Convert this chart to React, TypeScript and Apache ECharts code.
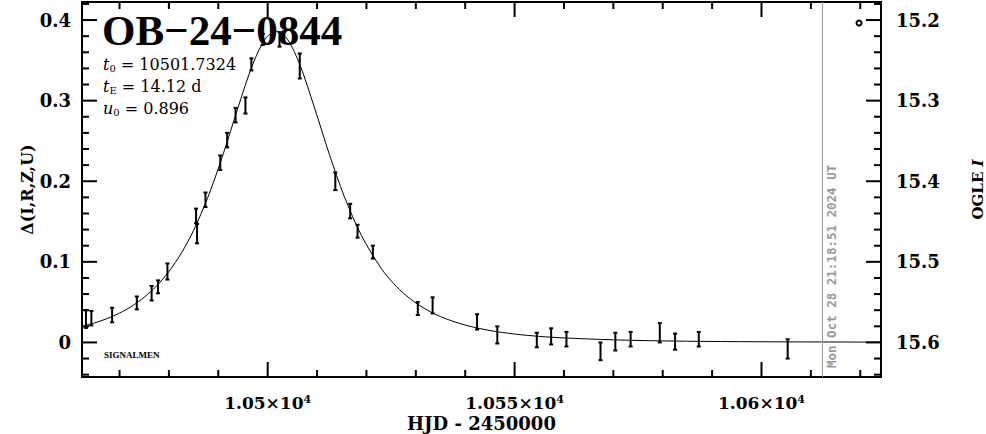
import React, { useEffect, useRef } from "react";
import * as echarts from "echarts";

// Observed photometry (HJD - 2450000, Δmag, error)
const hjd = [
  10463.2, 10464.3, 10468.5, 10473.5, 10476.5, 10477.8, 10479.7, 10485.5, 10485.7, 10487.4,
  10490.4, 10491.8, 10493.5, 10495.5, 10496.7, 10499.0, 10502.4, 10506.5, 10513.7, 10516.7,
  10518.2, 10521.3, 10530.4, 10533.4, 10542.4, 10546.5, 10554.5, 10557.4, 10560.5, 10567.4,
  10570.4, 10573.5, 10579.4, 10582.5, 10587.3, 10605.3,
];
const delta = [
  0.029, 0.03, 0.034, 0.049, 0.061, 0.069, 0.088, 0.157, 0.135, 0.177,
  0.223, 0.251, 0.282, 0.294, 0.345, 0.376, 0.376, 0.343, 0.2, 0.163,
  0.138, 0.112, 0.042, 0.046, 0.0255, 0.0093, 0.003, 0.0075, 0.004, -0.011,
  0.001, 0.004, 0.012, 0.001, 0.004, -0.008,
];
const deltaErr = [
  0.011, 0.009, 0.009, 0.008, 0.009, 0.008, 0.01, 0.009, 0.012, 0.009,
  0.009, 0.009, 0.009, 0.01, 0.0075, 0.007, 0.009, 0.0155, 0.011, 0.009,
  0.008, 0.008, 0.008, 0.01, 0.0095, 0.0106, 0.009, 0.01, 0.009, 0.011,
  0.011, 0.009, 0.012, 0.01, 0.009, 0.012,
];

// Model light curve samples
const modelHjd = [
  10462.4, 10465, 10467.5, 10470, 10472.5, 10475, 10477.5, 10480, 10482.5, 10485,
  10488, 10491, 10494, 10497, 10499.5, 10501.73, 10504, 10506.5, 10509.5, 10512.5,
  10515.5, 10519, 10523, 10525.5, 10528, 10531, 10535, 10540, 10545, 10550,
  10555, 10560, 10570, 10580, 10590, 10605, 10624.2,
];
const modelDelta = [
  0.0198, 0.0243, 0.0296, 0.0364, 0.045, 0.056, 0.0701, 0.088, 0.1106, 0.1391,
  0.1818, 0.2339, 0.2915, 0.3454, 0.3765, 0.3864, 0.3762, 0.3449, 0.2909, 0.2332,
  0.1813, 0.1325, 0.0918, 0.0731, 0.0584, 0.0449, 0.032, 0.0215, 0.0148, 0.0104,
  0.0075, 0.0056, 0.0032, 0.0019, 0.0012, 0.0007, 0.0004,
];

// Axis ticks
const xMajorTicks = [10500, 10550, 10600];
const xMinorTicks = [10470, 10480, 10490, 10510, 10520, 10530, 10540, 10560, 10570, 10580, 10590, 10610, 10620];
const leftMajorTicks = [0, 0.1, 0.2, 0.3, 0.4];
const leftMinorTicks = [-0.04, -0.02, 0.02, 0.04, 0.06, 0.08, 0.12, 0.14, 0.16, 0.18, 0.22, 0.24, 0.26, 0.28, 0.32, 0.34, 0.36, 0.38, 0.42];
const rightMajorTicks = [15.2, 15.3, 15.4, 15.5, 15.6];
const rightMinorTicks = [15.18, 15.22, 15.24, 15.26, 15.28, 15.32, 15.34, 15.36, 15.38, 15.42, 15.44, 15.46, 15.48, 15.52, 15.54, 15.56, 15.58, 15.62, 15.64];

const xMin = 10462.4;
const xMax = 10624.2;
const dMin = -0.0429;
const dMax = 0.4224;
const baseMag = 15.6;

const nowHjd = 10612.388;
const nowLabel = "Mon Oct 28 21:18:51 2024 UT";
const eventName = "OB\u221224\u22120844";
const t0Text = "10501.7324";
const tEText = "14.12 d";
const u0Text = "0.896";

const SERIF = "DejaVu Serif";
const MAJOR = 15;
const MINOR = 7;

const tickRender = (params: any, api: any) => {
  const cs = params.coordSys;
  const kind = api.value(3);
  const len = api.value(2);
  const p = api.coord([api.value(0), api.value(1)]);
  const st = { stroke: "#000", lineWidth: 2 };
  if (kind === 0) {
    const yb = cs.y + cs.height;
    const yt = cs.y;
    return {
      type: "group",
      children: [
        { type: "line", shape: { x1: p[0], y1: yb, x2: p[0], y2: yb - len }, style: st },
        { type: "line", shape: { x1: p[0], y1: yt, x2: p[0], y2: yt + len }, style: st },
      ],
    };
  }
  if (kind === 1) {
    return { type: "line", shape: { x1: cs.x, y1: p[1], x2: cs.x + len, y2: p[1] }, style: st };
  }
  const xr = cs.x + cs.width;
  return { type: "line", shape: { x1: xr - len, y1: p[1], x2: xr, y2: p[1] }, style: st };
};

export default function App() {
  const ref = useRef<HTMLDivElement>(null);
  useEffect(() => {
    document.body.style.margin = "0";
    const chart = echarts.init(ref.current!, null, { renderer: "svg" });
    const tickLabel = { fontFamily: SERIF, fontWeight: "bold", fontSize: 18, color: "#000" };
    const axLine = { show: true, onZero: false, lineStyle: { color: "#000", width: 2 } };

    const leftTickData = [
      ...xMajorTicks.map((v) => [v, 0, MAJOR, 0]),
      ...xMinorTicks.map((v) => [v, 0, MINOR, 0]),
      ...leftMajorTicks.map((v) => [xMin, v, MAJOR, 1]),
      ...leftMinorTicks.map((v) => [xMin, v, MINOR, 1]),
    ];
    const rightTickData = [
      ...rightMajorTicks.map((v) => [xMin, v, MAJOR, 2]),
      ...rightMinorTicks.map((v) => [xMin, v, MINOR, 2]),
    ];

    const option: any = {
      animation: false,
      backgroundColor: "#fff",
      grid: { left: 82, right: 105, top: 2, bottom: 57, containLabel: false, outerBoundsMode: "none" },
      xAxis: [
        {
          type: "value", position: "bottom", min: xMin, max: xMax,
          axisLine: axLine, axisTick: { show: false }, splitLine: { show: false },
          axisLabel: {
            show: true, margin: 17, customValues: xMajorTicks,
            formatter: (v: number) => `{m|${parseFloat((v / 1e4).toPrecision(6))}\u00d710}{e|4}`,
            rich: {
              m: { fontFamily: SERIF, fontWeight: "bold", fontSize: 17, lineHeight: 17, color: "#000" },
              e: { fontFamily: SERIF, fontWeight: "bold", fontSize: 11, lineHeight: 11, color: "#000", verticalAlign: "top" },
            },
          },
          name: "HJD - 2450000", nameLocation: "middle", nameGap: 37, nameMoveOverlap: false,
          nameTextStyle: { fontFamily: SERIF, fontWeight: "bold", fontSize: 18, color: "#000", lineHeight: 18 },
        },
        {
          type: "value", position: "top", min: xMin, max: xMax,
          axisLine: axLine, axisTick: { show: false }, axisLabel: { show: false }, splitLine: { show: false },
        },
      ],
      yAxis: [
        {
          type: "value", position: "left", min: dMin, max: dMax,
          axisLine: axLine, axisTick: { show: false }, splitLine: { show: false },
          axisLabel: { show: true, margin: 11, customValues: leftMajorTicks, ...tickLabel, formatter: (v: number) => `${parseFloat(v.toFixed(2))}` },
          name: "\u0394(I,R,Z,U)", nameLocation: "middle", nameGap: 47, nameRotate: 90, nameMoveOverlap: false,
          nameTextStyle: { fontFamily: SERIF, fontWeight: "bold", fontSize: 16, color: "#000" },
        },
        {
          type: "value", position: "right", inverse: true, min: baseMag - dMax, max: baseMag - dMin,
          axisLine: axLine, axisTick: { show: false }, splitLine: { show: false },
          axisLabel: { show: true, margin: 15, customValues: rightMajorTicks, ...tickLabel, formatter: (v: number) => v.toFixed(1) },
          name: "{a|OGLE }{b|I}", nameLocation: "middle", nameGap: 89, nameRotate: 90, nameMoveOverlap: false,
          nameTextStyle: {
            rich: {
              a: { fontFamily: SERIF, fontWeight: "bold", fontSize: 15, color: "#000" },
              b: { fontFamily: SERIF, fontWeight: "bold", fontStyle: "italic", fontSize: 15, color: "#000" },
            },
          },
        },
      ],
      series: [
        {
          type: "custom", xAxisIndex: 0, yAxisIndex: 0, silent: true, clip: false,
          data: leftTickData, encode: { x: 0, y: 1 }, renderItem: tickRender, z: 5,
        },
        {
          type: "custom", xAxisIndex: 0, yAxisIndex: 1, silent: true, clip: false,
          data: rightTickData, encode: { x: 0, y: 1 }, renderItem: tickRender, z: 5,
        },
        {
          type: "line", xAxisIndex: 0, yAxisIndex: 0,
          data: modelHjd.map((t, i) => [t, modelDelta[i]]),
          showSymbol: false, smooth: 0.3, silent: true,
          lineStyle: { color: "#000", width: 1 },
          markLine: {
            silent: true, symbol: ["none", "none"], label: { show: false },
            lineStyle: { color: "#999", width: 1, type: "solid" },
            data: [{ xAxis: nowHjd }],
          },
          z: 2,
        },
        {
          type: "custom", xAxisIndex: 0, yAxisIndex: 0,
          data: hjd.map((t, i) => [t, delta[i], deltaErr[i]]),
          encode: { x: 0, y: 1 },
          renderItem: (params: any, api: any) => {
            const x = api.value(0), y = api.value(1), e = api.value(2);
            const top = api.coord([x, y + e]);
            const bot = api.coord([x, y - e]);
            const w = 2;
            const st = { stroke: "#000", lineWidth: 2 };
            return {
              type: "group",
              children: [
                { type: "line", shape: { x1: top[0], y1: top[1], x2: bot[0], y2: bot[1] }, style: st },
                { type: "line", shape: { x1: top[0] - w, y1: top[1], x2: top[0] + w, y2: top[1] }, style: st },
                { type: "line", shape: { x1: bot[0] - w, y1: bot[1], x2: bot[0] + w, y2: bot[1] }, style: st },
              ],
            };
          },
          z: 3,
        },
      ],
    };
    chart.setOption(option);
    const px = chart.convertToPixel({ xAxisIndex: 0 }, nowHjd) as number;
    const sub = { fontFamily: SERIF, fontSize: 10, color: "#000", verticalAlign: "bottom" };
    const main = { fontFamily: SERIF, fontSize: 16, color: "#000", lineHeight: 18 };
    const ital = { ...main, fontStyle: "italic" };
    chart.setOption({
      graphic: [
        {
          type: "text", x: 102, y: 13, z: 10,
          style: { text: eventName, fontFamily: "Liberation Serif", fontWeight: "bold", fontSize: 43, lineHeight: 34, fill: "#000", verticalAlign: "top" },
        },
        {
          type: "text", x: 103, y: 64, z: 10,
          style: { text: `{i|t}{s|0}{m| = ${t0Text}}`, rich: { i: ital, s: sub, m: main }, verticalAlign: "middle" },
        },
        {
          type: "text", x: 103, y: 86, z: 10,
          style: { text: `{i|t}{s|E}{m| = ${tEText}}`, rich: { i: ital, s: sub, m: main }, verticalAlign: "middle" },
        },
        {
          type: "text", x: 103, y: 108, z: 10,
          style: { text: `{i|u}{s|0}{m| = ${u0Text}}`, rich: { i: ital, s: sub, m: main }, verticalAlign: "middle" },
        },
        {
          type: "text", x: 104, y: 355, z: 10,
          style: { text: "SIGNALMEN", fontFamily: "Liberation Serif", fontWeight: "bold", fontSize: 9, fill: "#000", verticalAlign: "middle" },
        },
        {
          type: "text", x: px + 2, y: 368, rotation: Math.PI / 2, z: 10,
          style: { text: nowLabel, fontFamily: "DejaVu Sans Mono", fontWeight: "bold", fontSize: 12.5, fill: "#999", align: "left", verticalAlign: "top" },
        },
        {
          type: "circle", shape: { cx: 859, cy: 23, r: 2.5 }, z: 10,
          style: { fill: "#fff", stroke: "#000", lineWidth: 2 },
        },
      ],
    });
    return () => chart.dispose();
  }, []);
  return <div ref={ref} style={{ width: 986, height: 434 }} />;
}
